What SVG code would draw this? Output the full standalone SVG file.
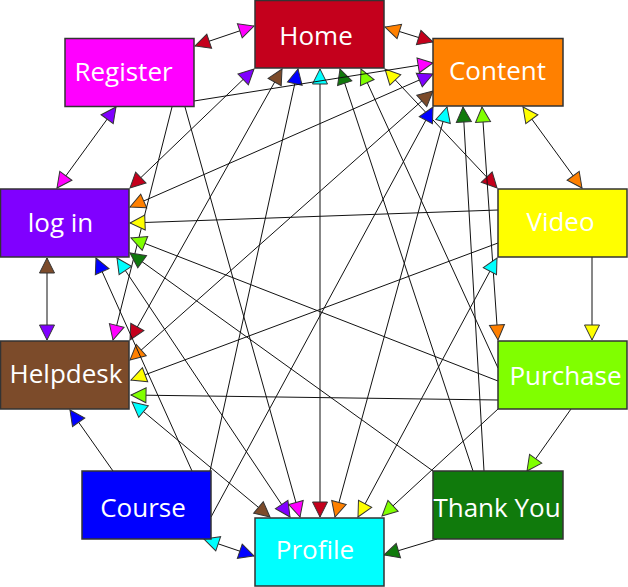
<svg xmlns="http://www.w3.org/2000/svg" width="628" height="587" viewBox="0 0 628 587">
<style>
.c line{stroke:#111;stroke-width:1;fill:none}
.n rect{stroke:#333;stroke-width:1.5}
.n text{font-family:"Open Sans","Noto Sans",sans-serif;font-size:26px;fill:#fff;text-anchor:middle}
.m path{stroke:#333;stroke-width:1;stroke-linejoin:miter}
</style>
<defs class="m">
<marker id="aH" markerUnits="userSpaceOnUse" markerWidth="16" markerHeight="16" refX="15" refY="7.5" orient="auto-start-reverse" overflow="visible"><path d="M0,0 L15,7.5 L0,15 Z" fill="#c4001c" stroke="#333"/></marker>
<marker id="aC" markerUnits="userSpaceOnUse" markerWidth="16" markerHeight="16" refX="15" refY="7.5" orient="auto-start-reverse" overflow="visible"><path d="M0,0 L15,7.5 L0,15 Z" fill="#ff8000" stroke="#333"/></marker>
<marker id="aR" markerUnits="userSpaceOnUse" markerWidth="16" markerHeight="16" refX="15" refY="7.5" orient="auto-start-reverse" overflow="visible"><path d="M0,0 L15,7.5 L0,15 Z" fill="#ff00ff" stroke="#333"/></marker>
<marker id="aL" markerUnits="userSpaceOnUse" markerWidth="16" markerHeight="16" refX="15" refY="7.5" orient="auto-start-reverse" overflow="visible"><path d="M0,0 L15,7.5 L0,15 Z" fill="#8000ff" stroke="#333"/></marker>
<marker id="aV" markerUnits="userSpaceOnUse" markerWidth="16" markerHeight="16" refX="15" refY="7.5" orient="auto-start-reverse" overflow="visible"><path d="M0,0 L15,7.5 L0,15 Z" fill="#ffff00" stroke="#333"/></marker>
<marker id="aD" markerUnits="userSpaceOnUse" markerWidth="16" markerHeight="16" refX="15" refY="7.5" orient="auto-start-reverse" overflow="visible"><path d="M0,0 L15,7.5 L0,15 Z" fill="#7c4b2a" stroke="#333"/></marker>
<marker id="aP" markerUnits="userSpaceOnUse" markerWidth="16" markerHeight="16" refX="15" refY="7.5" orient="auto-start-reverse" overflow="visible"><path d="M0,0 L15,7.5 L0,15 Z" fill="#80ff00" stroke="#333"/></marker>
<marker id="aT" markerUnits="userSpaceOnUse" markerWidth="16" markerHeight="16" refX="15" refY="7.5" orient="auto-start-reverse" overflow="visible"><path d="M0,0 L15,7.5 L0,15 Z" fill="#107a0c" stroke="#333"/></marker>
<marker id="aCo" markerUnits="userSpaceOnUse" markerWidth="16" markerHeight="16" refX="15" refY="7.5" orient="auto-start-reverse" overflow="visible"><path d="M0,0 L15,7.5 L0,15 Z" fill="#0000ff" stroke="#333"/></marker>
<marker id="aPr" markerUnits="userSpaceOnUse" markerWidth="16" markerHeight="16" refX="15" refY="7.5" orient="auto-start-reverse" overflow="visible"><path d="M0,0 L15,7.5 L0,15 Z" fill="#00ffff" stroke="#333"/></marker>
</defs>
<g id="connectors" class="c">
<line x1="195" y1="46" x2="254" y2="26" marker-start="url(#aH)" marker-end="url(#aR)"/>
<line x1="385" y1="27" x2="433" y2="42" marker-start="url(#aC)" marker-end="url(#aH)"/>
<line x1="254" y1="69" x2="130" y2="188" marker-start="url(#aL)" marker-end="url(#aH)"/>
<line x1="282" y1="69" x2="130" y2="340" marker-start="url(#aD)" marker-end="url(#aH)"/>
<line x1="298" y1="69" x2="210" y2="471" marker-start="url(#aCo)"/>
<line x1="320" y1="69" x2="320" y2="517" marker-start="url(#aPr)" marker-end="url(#aH)"/>
<line x1="340" y1="69" x2="473" y2="471" marker-start="url(#aT)"/>
<line x1="361" y1="69" x2="498" y2="368" marker-start="url(#aP)"/>
<line x1="385" y1="69" x2="497" y2="188" marker-start="url(#aV)" marker-end="url(#aH)"/>
<line x1="194" y1="101" x2="433" y2="63" marker-end="url(#aR)"/>
<line x1="130" y1="207" x2="433" y2="74" marker-start="url(#aC)" marker-end="url(#aL)"/>
<line x1="130" y1="360" x2="433" y2="91" marker-start="url(#aC)" marker-end="url(#aD)"/>
<line x1="211" y1="517" x2="433" y2="107" marker-end="url(#aCo)"/>
<line x1="335" y1="517" x2="447" y2="107" marker-start="url(#aC)" marker-end="url(#aPr)"/>
<line x1="484" y1="471" x2="463" y2="107" marker-end="url(#aT)"/>
<line x1="498" y1="340" x2="482" y2="107" marker-start="url(#aC)" marker-end="url(#aP)"/>
<line x1="582" y1="188" x2="523" y2="107" marker-start="url(#aC)" marker-end="url(#aV)"/>
<line x1="116" y1="107" x2="57" y2="188" marker-start="url(#aL)" marker-end="url(#aR)"/>
<line x1="172" y1="107" x2="113" y2="340" marker-end="url(#aR)"/>
<line x1="185" y1="107" x2="300" y2="517" marker-end="url(#aR)"/>
<line x1="498" y1="210" x2="130" y2="223" marker-end="url(#aV)"/>
<line x1="498" y1="381" x2="131" y2="238" marker-end="url(#aP)"/>
<line x1="433" y1="471" x2="130" y2="253" marker-end="url(#aT)"/>
<line x1="192" y1="471" x2="96" y2="258" marker-end="url(#aCo)"/>
<line x1="290" y1="517" x2="117" y2="258" marker-start="url(#aL)" marker-end="url(#aPr)"/>
<line x1="47" y1="258" x2="47" y2="340" marker-start="url(#aD)" marker-end="url(#aL)"/>
<line x1="498" y1="243" x2="131" y2="380" marker-end="url(#aV)"/>
<line x1="498" y1="400" x2="131" y2="395" marker-end="url(#aP)"/>
<line x1="270" y1="517" x2="132" y2="402" marker-start="url(#aD)" marker-end="url(#aPr)"/>
<line x1="113" y1="471" x2="70" y2="410" marker-end="url(#aCo)"/>
<line x1="497" y1="258" x2="358" y2="517" marker-start="url(#aPr)" marker-end="url(#aV)"/>
<line x1="592" y1="257" x2="592" y2="340" marker-end="url(#aV)"/>
<line x1="571" y1="409" x2="527" y2="471" marker-end="url(#aP)"/>
<line x1="498" y1="409" x2="382" y2="516" marker-end="url(#aP)"/>
<line x1="437" y1="539" x2="384" y2="555" marker-end="url(#aT)"/>
<line x1="204" y1="539" x2="254" y2="556" marker-start="url(#aPr)" marker-end="url(#aCo)"/>
</g>
<g id="home" class="n"><rect x="255" y="0.5" width="129" height="67.5" fill="#c4001c"/><text x="316" y="45">Home</text></g>
<g id="content" class="n"><rect x="433" y="38.5" width="130" height="67.5" fill="#ff8000"/><text x="497.5" y="80">Content</text></g>
<g id="register" class="n"><rect x="65" y="38.5" width="129" height="68" fill="#ff00ff"/><text x="123.5" y="81">Register</text></g>
<g id="login" class="n"><rect x="0.5" y="189" width="128.5" height="68" fill="#8000ff"/><text x="60.5" y="232">log in</text></g>
<g id="video" class="n"><rect x="498" y="189" width="129" height="68" fill="#ffff00"/><text x="560.5" y="231">Video</text></g>
<g id="helpdesk" class="n"><rect x="0.5" y="341" width="128.5" height="68" fill="#7c4b2a"/><text x="66" y="383">Helpdesk</text></g>
<g id="purchase" class="n"><rect x="498" y="341" width="129" height="68" fill="#80ff00"/><text x="565.5" y="385">Purchase</text></g>
<g id="course" class="n"><rect x="82" y="471" width="129" height="68" fill="#0000ff"/><text x="143" y="517">Course</text></g>
<g id="thankyou" class="n"><rect x="433" y="471" width="130" height="68" fill="#107a0c"/><text x="497" y="517">Thank You</text></g>
<g id="profile" class="n"><rect x="255" y="518" width="129" height="68" fill="#00ffff"/><text x="315" y="559">Profile</text></g>
</svg>
